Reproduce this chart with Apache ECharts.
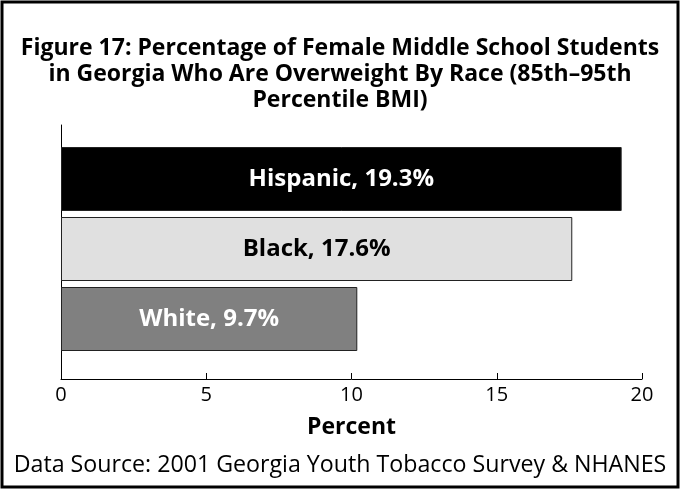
<!DOCTYPE html>
<html>
<head>
<meta charset="utf-8">
<script src="https://cdn.jsdelivr.net/npm/echarts@6/dist/echarts.min.js"></script>
<style>
  html, body { margin: 0; padding: 0; background: #fff; }
  #chart { width: 680px; height: 489px; }
</style>
</head>
<body>
<div id="chart"></div>
<script>
// data
var races = ['Hispanic', 'Black', 'White'];
var barValues = [19.3, 17.6, 10.2];      // drawn bar lengths
var reported = ['19.3%', '17.6%', '9.7%']; // printed labels
var barColors = ['#000000', '#e0e0e0', '#808080'];
var labelColors = ['#ffffff', '#000000', '#ffffff'];
var xTicks = [0, 5, 10, 15, 20];

var font = '"Open Sans", "Noto Sans", sans-serif';

var chart = echarts.init(document.getElementById('chart'));

var option = {
  animation: false,
  backgroundColor: '#fff',
  title: {
    text: 'Figure 17: Percentage of Female Middle School Students\nin Georgia Who Are Overweight By Race (85th\u201395th\nPercentile BMI)',
    left: 'center',
    top: 30,
    textStyle: {
      fontFamily: font,
      fontWeight: 'bold',
      fontSize: 23,
      lineHeight: 26,
      color: '#000'
    }
  },
  graphic: [
    {
      type: 'rect',
      shape: { x: 2, y: 2, width: 676, height: 485 },
      style: { fill: null, stroke: '#000', lineWidth: 3 },
      silent: true
    },
    {
      type: 'text',
      left: 'center',
      top: 454,
      style: {
        text: 'Data Source: 2001 Georgia Youth Tobacco Survey & NHANES',
        font: '23.2px ' + font,
        fill: '#000'
      }
    }
  ],
  grid: [
    // frame grid: carries the visible axes
    { left: 61, right: 38, top: 125, bottom: 110 },
    // bar grid: bars packed in the upper part of the frame
    { left: 61, right: 38, top: 144, height: 210 }
  ],
  xAxis: [
    {
      gridIndex: 0,
      type: 'value',
      min: xTicks[0],
      max: xTicks[xTicks.length - 1],
      interval: 5,
      splitLine: { show: false },
      axisLine: { show: true, onZero: false, lineStyle: { color: '#000', width: 1 } },
      axisTick: { show: true, inside: true, length: 6, lineStyle: { color: '#000' } },
      axisLabel: { color: '#000', fontSize: 20, fontFamily: font, margin: 6 },
      name: 'Percent',
      nameLocation: 'middle',
      nameGap: 37,
      nameTextStyle: { color: '#000', fontSize: 23, fontWeight: 'bold', fontFamily: font }
    },
    {
      gridIndex: 1,
      type: 'value',
      min: xTicks[0],
      max: xTicks[xTicks.length - 1],
      show: false
    }
  ],
  yAxis: [
    {
      gridIndex: 0,
      type: 'value',
      min: 0,
      max: 1,
      axisLine: { show: true, onZero: false, lineStyle: { color: '#000', width: 1 } },
      axisTick: { show: false },
      axisLabel: { show: false },
      splitLine: { show: false }
    },
    {
      gridIndex: 1,
      type: 'category',
      data: races,
      inverse: true,
      show: false
    }
  ],
  series: [{
    type: 'bar',
    xAxisIndex: 1,
    yAxisIndex: 1,
    barWidth: 64,
    data: barValues.map(function (v, i) {
      return {
        value: v,
        itemStyle: { color: barColors[i], borderColor: '#222', borderWidth: 1 },
        label: {
          show: true,
          position: 'inside',
          formatter: races[i] + ', ' + reported[i],
          color: labelColors[i],
          fontSize: 24,
          fontWeight: 'bold',
          fontFamily: font
        }
      };
    })
  }]
};

chart.setOption(option);
</script>
</body>
</html>
